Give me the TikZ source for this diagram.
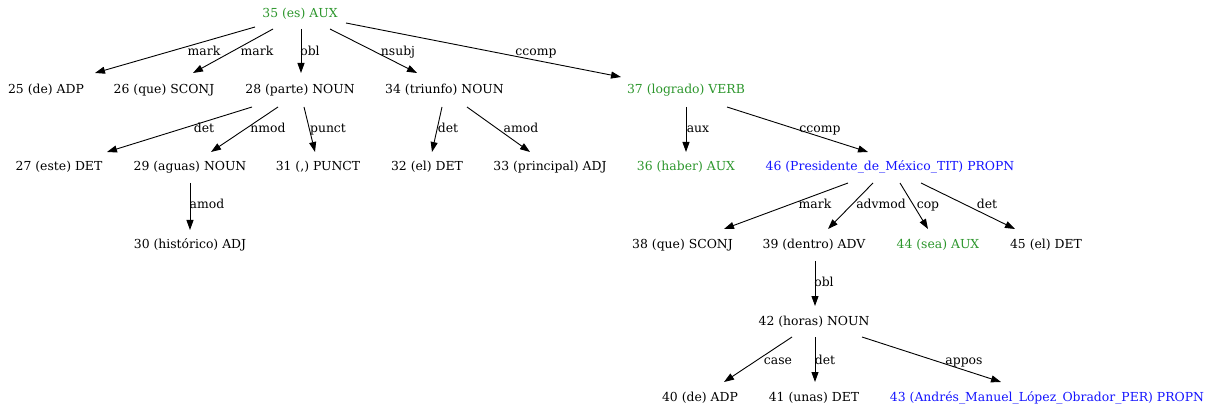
\documentclass[tikz,border=0pt]{standalone}
\usepackage{fontspec}
\setmainfont{DejaVu Serif}
\usetikzlibrary{arrows.meta,calc}
\definecolor{auxgreen}{RGB}{44,150,44}
\definecolor{entblue}{RGB}{20,20,255}
\tikzset{
  tok/.style={inner sep=0pt, anchor=base, font=\fontsize{12.4}{14}\selectfont},
  rel/.style={inner sep=0pt, anchor=base, font=\fontsize{12.4}{14}\selectfont},
  dep/.style={line width=0.9pt, -{Triangle[length=10pt,width=7pt]}},
  green/.style={text=auxgreen},
  blue/.style={text=entblue}
}
% \dep{from}{dx}{dy}{to}{dx}{dy}: arrow between two tokens, offsets from their centres
\newcommand{\dep}[6]{\draw[dep] ($(#1)+(#2,#3)$) -- ($(#4)+(#5,#6)$);}
\begin{document}
\begin{tikzpicture}[x=1pt,y=-1pt]
\useasboundingbox (0,0) rectangle (1213,406);

% tokens (row centres at y = 13, 89, 166, 244, 321, 397)
\coordinate (c35) at (300,13);
\coordinate (c25) at (46,89);   \coordinate (c26) at (164,89);
\coordinate (c28) at (300,89);  \coordinate (c34) at (444.5,89);
\coordinate (c37) at (686,89);
\coordinate (c27) at (59,166);  \coordinate (c29) at (190,166);
\coordinate (c31) at (318,166); \coordinate (c32) at (427,166);
\coordinate (c33) at (550,166); \coordinate (c36) at (686,166);
\coordinate (c46) at (890,166);
\coordinate (c30) at (190,244); \coordinate (c38) at (682.5,244);
\coordinate (c39) at (814,244); \coordinate (c44) at (938,244);
\coordinate (c45) at (1046,244);
\coordinate (c42) at (814,321);
\coordinate (c40) at (700,397); \coordinate (c41) at (814,397);
\coordinate (c43) at (1047,397);

\node[tok,green] (n35) at ($(c35)+(0,4.5)$) {35 (es) AUX};
\node[tok] (n25) at ($(c25)+(0,4.5)$) {25 (de) ADP};
\node[tok] (n26) at ($(c26)+(0,4.5)$) {26 (que) SCONJ};
\node[tok] (n28) at ($(c28)+(0,4.5)$) {28 (parte) NOUN};
\node[tok] (n34) at ($(c34)+(0,4.5)$) {34 (triunfo) NOUN};
\node[tok,green] (n37) at ($(c37)+(0,4.5)$) {37 (logrado) VERB};
\node[tok] (n27) at ($(c27)+(0,4.5)$) {27 (este) DET};
\node[tok] (n29) at ($(c29)+(0,4.5)$) {29 (aguas) NOUN};
\node[tok] (n31) at ($(c31)+(0,4.5)$) {31 (,) PUNCT};
\node[tok] (n32) at ($(c32)+(0,4.5)$) {32 (el) DET};
\node[tok] (n33) at ($(c33)+(0,4.5)$) {33 (principal) ADJ};
\node[tok,green] (n36) at ($(c36)+(0,4.5)$) {36 (haber) AUX};
\node[tok,blue] (n46) at ($(c46)+(0,4.5)$) {46 (Presidente\_de\_México\_TIT) PROPN};
\node[tok] (n30) at ($(c30)+(0,4.5)$) {30 (histórico) ADJ};
\node[tok] (n38) at ($(c38)+(0,4.5)$) {38 (que) SCONJ};
\node[tok] (n39) at ($(c39)+(0,4.5)$) {39 (dentro) ADV};
\node[tok,green] (n44) at ($(c44)+(0,4.5)$) {44 (sea) AUX};
\node[tok] (n45) at ($(c45)+(0,4.5)$) {45 (el) DET};
\node[tok] (n42) at ($(c42)+(0,4.5)$) {42 (horas) NOUN};
\node[tok] (n40) at ($(c40)+(0,4.5)$) {40 (de) ADP};
\node[tok] (n41) at ($(c41)+(0,4.5)$) {41 (unas) DET};
\node[tok,blue] (n43) at ($(c43)+(0,4.5)$) {43 (Andrés\_Manuel\_López\_Obrador\_PER) PROPN};

% dependency arcs
\dep{c35}{-45}{14}{c25}{49}{-16}
\dep{c35}{-27}{16}{c26}{29}{-16}
\dep{c35}{1}{16}{c28}{1}{-16}
\dep{c35}{30}{16}{c34}{-27.5}{-16}
\dep{c35}{46}{10}{c37}{-65}{-12}
\dep{c28}{-48}{18}{c27}{48}{-14}
\dep{c28}{-22}{18}{c29}{21}{-14}
\dep{c28}{4}{18}{c31}{-3}{-14}
\dep{c34}{-2.5}{18}{c32}{5}{-14}
\dep{c34}{22.5}{18}{c33}{-20}{-14}
\dep{c37}{0}{18}{c36}{0}{-14}
\dep{c37}{41}{18}{c46}{-22}{-14}
\dep{c29}{0}{17}{c30}{0}{-14}
\dep{c46}{-42}{17}{c38}{41.5}{-15}
\dep{c46}{-17}{17}{c39}{14}{-15}
\dep{c46}{10}{17}{c44}{-10}{-15}
\dep{c46}{31}{17}{c45}{-31}{-15}
\dep{c39}{1}{17}{c42}{1}{-15}
\dep{c42}{-22}{16}{c40}{24}{-15}
\dep{c42}{1}{16}{c41}{1}{-15}
\dep{c42}{48}{16}{c43}{-46}{-15}

% relation labels
\node[rel] (l1) at (204,55.5) {mark};
\node[rel] (l2) at (257,55.5) {mark};
\node[rel] (l3) at (310,55.5) {obl};
\node[rel] (l4) at (398,55.5) {nsubj};
\node[rel] (l5) at (536,55.5) {ccomp};
\node[rel] (l6) at (204,132.5) {det};
\node[rel] (l7) at (268,132.5) {nmod};
\node[rel] (l8) at (328,132.5) {punct};
\node[rel] (l9) at (448,132.5) {det};
\node[rel] (l10) at (521,132.5) {amod};
\node[rel] (l11) at (698,132.5) {aux};
\node[rel] (l12) at (820,132.5) {ccomp};
\node[rel] (l13) at (207,208.5) {amod};
\node[rel] (l14) at (815,208.5) {mark};
\node[rel] (l15) at (881,208.5) {advmod};
\node[rel] (l16) at (928,208.5) {cop};
\node[rel] (l17) at (987,208.5) {det};
\node[rel] (l18) at (824,286.5) {obl};
\node[rel] (l19) at (778,364.5) {case};
\node[rel] (l20) at (825,364.5) {det};
\node[rel] (l21) at (964,364.5) {appos};
\end{tikzpicture}
\end{document}
